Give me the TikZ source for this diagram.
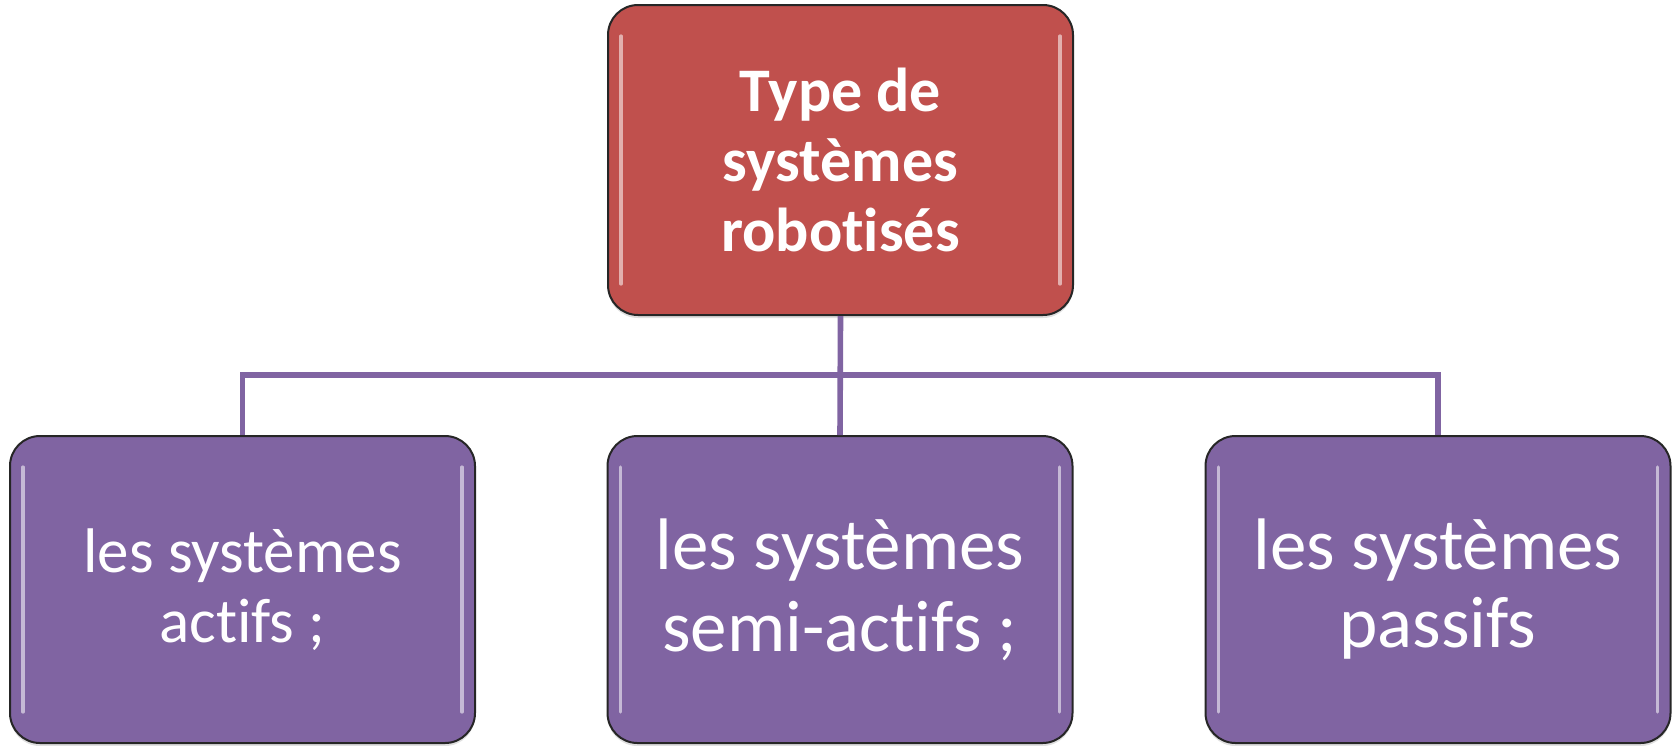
\documentclass[tikz,border=0pt]{standalone}
\usepackage{fontspec}
\setmainfont{Carlito}[Ligatures=NoCommon]
\usetikzlibrary{shadows}
\definecolor{boxred}{HTML}{C0504D}
\definecolor{boxpurple}{HTML}{8064A2}
\tikzset{
  basebox/.style={draw=black!85, line width=1pt, rounded corners=15pt, minimum width=232.5pt,
    align=center, text=white, inner sep=0pt,
    drop shadow={opacity=0.25, shadow xshift=0pt, shadow yshift=-1.5pt}},
  topbox/.style={basebox, fill=boxred, minimum height=155pt,
    font=\fontsize{31}{35}\selectfont\bfseries},
  childbox/.style={basebox, fill=boxpurple, minimum height=153.5pt},
  conn/.style={draw=boxpurple, line width=2.8pt},
  gloss/.style={draw=white, opacity=0.55, line width=1.6pt, line cap=round}
}
\newcommand{\glossbox}[1]{%
  \draw[gloss] ([xshift=7pt,yshift=-16pt]#1.north west) -- ([xshift=7pt,yshift=16pt]#1.south west);
  \draw[gloss] ([xshift=-7pt,yshift=-16pt]#1.north east) -- ([xshift=-7pt,yshift=16pt]#1.south east);
}
\begin{document}
\begin{tikzpicture}[x=0.5pt,y=-0.5pt]
\useasboundingbox (0,0) rectangle (1675,745);
\coordinate (bus) at (840,375);
\node[topbox] (top) at (840.5,160) {Type de\\systèmes\\robotisés};
\node[childbox, font=\fontsize{31.5}{35}\selectfont] (left) at (242.5,589.5) {les systèmes\\actifs ;};
\node[childbox, font=\fontsize{36.5}{41}\selectfont] (mid) at (840,589.5) {les systèmes\\semi-actifs ;};
\node[childbox, font=\fontsize{36.5}{39}\selectfont] (right) at (1438,589.5) {les systèmes\\passifs};
\glossbox{top}
\glossbox{left}
\glossbox{mid}
\glossbox{right}
\draw[conn] (top.south) -- (mid.north);
\draw[conn] (left.north) -- (left.north |- bus) -- (right.north |- bus) -- (right.north);
\end{tikzpicture}
\end{document}
